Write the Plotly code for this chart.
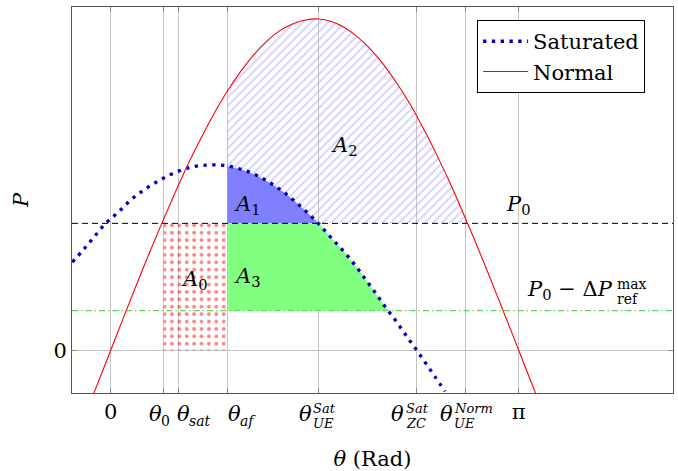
import numpy as np
import plotly.graph_objects as go

FONT = "DejaVu Serif"
FS = 21

# ---- data ----
theta_sat = [-0.296, -0.211, -0.126, -0.039, 0.059, 0.156, 0.256, 0.367, 0.487, 0.611,
             0.739, 0.867, 0.996, 1.119, 1.232, 1.337, 1.440, 1.540, 1.629, 1.717,
             1.804, 1.887, 1.966, 2.043, 2.114, 2.197, 2.272, 2.351, 2.422, 2.499, 2.574]
p_sat = [0.266, 0.303, 0.343, 0.383, 0.417, 0.454, 0.484, 0.511, 0.535, 0.552,
         0.559, 0.558, 0.547, 0.529, 0.504, 0.476, 0.442, 0.406, 0.370, 0.331,
         0.294, 0.254, 0.212, 0.171, 0.131, 0.088, 0.046, 0.003, -0.037, -0.081, -0.124]

theta_norm = [-0.2, -0.1, 0.0, 0.1, 0.2, 0.3, 0.4, 0.5, 0.6, 0.7, 0.8, 0.9, 1.0, 1.1, 1.2,
              1.3, 1.4, 1.5, 1.6, 1.7, 1.8, 1.9, 2.0, 2.1, 2.2, 2.3, 2.4, 2.5, 2.6, 2.7,
              2.8, 2.9, 3.0, 3.1, 3.2, 3.3, 3.4]
p_norm = [-0.199, -0.100, 0.000, 0.100, 0.199, 0.296, 0.389, 0.479, 0.565, 0.644, 0.717,
          0.783, 0.841, 0.891, 0.932, 0.964, 0.985, 0.997, 1.000, 0.992, 0.974, 0.946,
          0.909, 0.863, 0.808, 0.746, 0.675, 0.598, 0.516, 0.427, 0.335, 0.239, 0.141,
          0.042, -0.058, -0.158, -0.256]

P0 = 0.383
P_low = 0.1195  # P0 - dP_ref^max

th_0 = 0.408
th_sat = 0.5205
th_af = 0.898
th_ue_sat = 1.6016
th_zc_sat = 2.353
th_ue_norm = 2.7335
PI = 3.1416

tick_vals = [0.0, th_0, th_sat, th_af, th_ue_sat, th_zc_sat, th_ue_norm, PI]
tick_text = ["0", "", "", "", "", "", "", "π"]

# ---- derived geometry for the filled areas ----
ts = np.array(theta_sat); ps = np.array(p_sat)
tn = np.array(theta_norm); pn = np.array(p_norm)
S = lambda t: float(np.interp(t, ts, ps))
N = lambda t: float(np.interp(t, tn, pn))
desc = ts > th_af
th_low = float(np.interp(P_low, ps[desc][::-1], ts[desc][::-1]))
descn = tn > 1.6
th_n_cross = float(np.interp(P0, pn[descn][::-1], tn[descn][::-1]))

fig = go.Figure()

# A0 : red dotted rectangle
fig.add_trace(go.Scatter(
    x=[th_0, th_af, th_af, th_0, th_0], y=[0, 0, P0, P0, 0],
    mode="lines", line=dict(width=0), fill="toself", fillcolor="rgba(0,0,0,0)",
    fillpattern=dict(shape=".", fgcolor="red", bgcolor="rgba(0,0,0,0)", size=7.4, solidity=0.22),
    showlegend=False, hoverinfo="skip"))

# A2 : hatched area between normal curve and max(P0, saturated)
m_n = (tn > th_af) & (tn < th_n_cross)
m_s = (ts > th_af) & (ts < th_ue_sat)
ax2 = [th_af, th_af] + list(tn[m_n]) + [th_n_cross, th_ue_sat] + list(ts[m_s][::-1]) + [th_af]
ay2 = [S(th_af), N(th_af)] + list(pn[m_n]) + [P0, P0] + list(ps[m_s][::-1]) + [S(th_af)]
fig.add_trace(go.Scatter(
    x=ax2, y=ay2, mode="lines", line=dict(width=0), fill="toself", fillcolor="rgba(0,0,0,0)",
    fillpattern=dict(shape="/", fgcolor="#a0a0ff", bgcolor="rgba(0,0,0,0)", size=6, solidity=0.3),
    showlegend=False, hoverinfo="skip"))

# A1 : blue area between saturated curve and P0
ax1 = [th_af, th_af] + list(ts[m_s]) + [th_ue_sat, th_af]
ay1 = [P0, S(th_af)] + list(ps[m_s]) + [P0, P0]
fig.add_trace(go.Scatter(
    x=ax1, y=ay1, mode="lines", line=dict(width=0), fill="toself", fillcolor="#8080ff",
    showlegend=False, hoverinfo="skip"))

# A3 : green area between P_low and P0 under saturated curve
m_s3 = (ts > th_ue_sat) & (ts < th_low)
ax3 = [th_af, th_af, th_ue_sat] + list(ts[m_s3]) + [th_low, th_af]
ay3 = [P_low, P0, P0] + list(ps[m_s3]) + [P_low, P_low]
fig.add_trace(go.Scatter(
    x=ax3, y=ay3, mode="lines", line=dict(width=0), fill="toself", fillcolor="#80ff80",
    showlegend=False, hoverinfo="skip"))

# reference lines
fig.add_trace(go.Scatter(x=[-0.298, 4.33], y=[P0, P0], mode="lines",
                         line=dict(color="black", width=1, dash="6px,4px"),
                         showlegend=False, hoverinfo="skip"))
fig.add_trace(go.Scatter(x=[-0.298, 4.33], y=[P_low, P_low], mode="lines",
                         line=dict(color="#5fd35f", width=1.3, dash="6px,3px,1.5px,3px"),
                         showlegend=False, hoverinfo="skip"))

# curves
fig.add_trace(go.Scatter(x=theta_sat, y=p_sat, mode="lines", name="Saturated",
                         line=dict(color="#0000c0", width=3.3, dash="3.3px,5.5px", shape="spline")))
fig.add_trace(go.Scatter(x=theta_norm, y=p_norm, mode="lines", name="Normal",
                         line=dict(color="red", width=1.1, shape="spline")))

# ---- annotations ----
def ann(x, y, text, size=FS, **kw):
    fig.add_annotation(x=x, y=y, text=text, showarrow=False,
                       font=dict(family=FONT, size=size, color="black"), **kw)

ann(0.649, 0.212, "<i>A</i><sub>0</sub>")
ann(1.053, 0.439, "<i>A</i><sub>1</sub>")
ann(1.797, 0.617, "<i>A</i><sub>2</sub>")
ann(1.057, 0.220, "<i>A</i><sub>3</sub>")
ann(3.138, 0.439, "<i>P</i><sub>0</sub>")
ann(3.883, 0.182, "<i>P</i><sub>0</sub> − Δ<i>P</i>", xanchor="right")
ann(3.883, 0.182, "max", size=14, xanchor="left", yshift=6)
ann(3.883, 0.182, "ref", size=14, xanchor="left", yshift=-9)

# theta tick labels (theta glyph + sub / stacked scripts), offsets in pixels
def theta_label(xv, dx, sup=None, sub=None, dxs=12):
    fig.add_annotation(x=xv, y=0, xref="x", yref="paper", text="<i>θ</i>", showarrow=False,
                       xanchor="left", yanchor="middle", xshift=dx, yshift=-21,
                       font=dict(family=FONT, size=FS, color="black"))
    if sup is not None:
        fig.add_annotation(x=xv, y=0, xref="x", yref="paper", text=sup, showarrow=False,
                           xanchor="left", yanchor="middle", xshift=dx + dxs, yshift=-15,
                           font=dict(family=FONT, size=13, color="black"))
        sy = -30
    else:
        sy = -28
    if sub is not None:
        fig.add_annotation(x=xv, y=0, xref="x", yref="paper", text=sub, showarrow=False,
                           xanchor="left", yanchor="middle", xshift=dx + dxs, yshift=sy,
                           font=dict(family=FONT, size=13 if sup else 14, color="black"))

theta_label(th_0, -17, sub="0")
theta_label(th_sat, -3, sub="<i>sat</i>")
theta_label(th_af, -1, sub="<i>af</i>")
theta_label(th_ue_sat, -22, sup="<i>Sat</i>", sub="<i>UE</i>", dxs=14)
theta_label(th_zc_sat, -27, sup="<i>Sat</i>", sub="<i>ZC</i>", dxs=15)
theta_label(th_ue_norm, -28, sup="<i>Norm</i>", sub="<i>UE</i>", dxs=14)

axis_common = dict(showgrid=True, gridcolor="#c4c4c4", gridwidth=1, zeroline=False,
                   showline=True, linecolor="#555", linewidth=1, mirror="ticks",
                   ticks="inside", ticklen=5, tickcolor="#888", automargin=False,
                   tickfont=dict(family=FONT, size=FS, color="black"))

fig.update_xaxes(range=[-0.298, 4.33], tickvals=tick_vals, ticktext=tick_text, tickangle=0,
                 title=dict(text="<i>θ</i> (Rad)", font=dict(family=FONT, size=FS, color="black"),
                            standoff=28),
                 **axis_common)
fig.update_yaxes(range=[-0.129, 1.036], tickvals=[0], ticktext=["0"],
                 title=dict(text="<i>P</i>", font=dict(family=FONT, size=FS, color="black"),
                            standoff=19),
                 **axis_common)

fig.update_layout(
    width=678, height=471, autosize=False,
    margin=dict(l=72, r=5, t=7, b=78),
    plot_bgcolor="white", paper_bgcolor="white",
    font=dict(family=FONT, size=FS, color="black"),
    legend=dict(x=0.674, y=0.966, xanchor="left", yanchor="top",
                bgcolor="white", bordercolor="black", borderwidth=1,
                font=dict(family=FONT, size=FS, color="black"),
                itemwidth=45, tracegroupgap=0),
)

fig.write_html("out.html", config={"displayModeBar": False},
               post_script="document.body.style.margin='0px';")
